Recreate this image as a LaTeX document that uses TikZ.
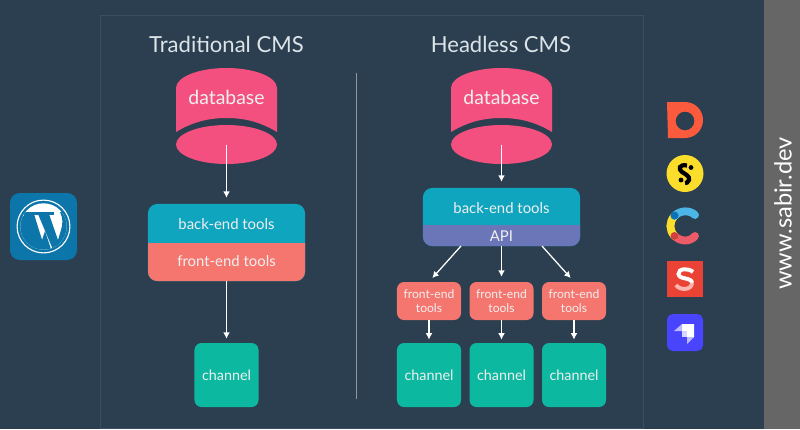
\documentclass[tikz,border=0pt]{standalone}
\usepackage{fontspec}
\setmainfont{Lato}
\usetikzlibrary{arrows.meta,shapes.geometric,calc}
\definecolor{hatter}{HTML}{2B3F50}
\definecolor{keret}{HTML}{3A4F61}
\definecolor{sav}{HTML}{666666}
\definecolor{valaszt}{HTML}{8C98A3}
\definecolor{cim}{HTML}{DDE4E8}
\definecolor{rozsa}{HTML}{F4507F}
\definecolor{kek}{HTML}{10A5BF}
\definecolor{lazac}{HTML}{F5766E}
\definecolor{lila}{HTML}{6B76B8}
\definecolor{zold}{HTML}{0DB8A0}
\definecolor{wpkek}{HTML}{0C76AB}
\definecolor{dpiros}{HTML}{FB5A3C}
\definecolor{sarga}{HTML}{FBDD2B}
\definecolor{cfkek}{HTML}{4BB5E5}
\definecolor{cfsotet}{HTML}{0A72B5}
\definecolor{cfpiros}{HTML}{EC5C68}
\definecolor{cfbordo}{HTML}{D0403F}
\definecolor{spiros}{HTML}{EA4335}
\definecolor{srozsa}{HTML}{F9B5AE}
\definecolor{strapi}{HTML}{4945FF}
\definecolor{strapih}{HTML}{BCBAFF}
\tikzset{
  nyil/.style={-{Latex[length=1.6mm,width=1.7mm]},white,line width=0.9pt},
  cimke/.style={text=cim,font=\fontsize{15.7}{18}\selectfont},
  dob/.style={inner sep=0pt,align=center,text=white!94!black},
  nagyfelirat/.style={dob,font=\fontsize{10.6}{12}\selectfont},
  kisfelirat/.style={dob,font=\fontsize{8.6}{10.2}\selectfont},
  tool/.style={nagyfelirat,fill=kek,rounded corners=6.5pt,minimum width=3.925cm},
  front/.style={kisfelirat,fill=lazac,rounded corners=5pt,minimum width=1.6cm,minimum height=0.95cm},
  channel/.style={dob,font=\fontsize{10.2}{12}\selectfont,fill=zold,rounded corners=5pt,minimum width=1.6cm,minimum height=1.6cm},
}
\begin{document}
\begin{tikzpicture}[x=0.025cm,y=-0.025cm]
  \useasboundingbox (0,0) rectangle (800,429);
  \fill[hatter] (0,0) rectangle (800,429);
  \fill[sav] (764,0) rectangle (800,429);
  \draw[keret,line width=0.6pt] (100,429) -- (100,15) -- (643,15) -- (643,428) -- (100,428);
  \node[inner sep=0pt] (vonalfent) at (356,72) {};
  \node[inner sep=0pt] (vonallent) at (356,400) {};
  \draw[valaszt,line width=0.7pt] (vonalfent) -- (vonallent);
  \node[cimke] (tradcim) at (226.5,44) {Traditional CMS};
  \node[cimke] (headcim) at (501,44) {Headless CMS};

  % database
  \foreach \cx/\nev in {226.5/trad,501.5/head} {
    \fill[rozsa] (\cx-50.5,88) .. controls (\cx-50.5,77) and (\cx-28,68) .. (\cx,68)
      .. controls (\cx+28,68) and (\cx+50.5,77) .. (\cx+50.5,88) -- (\cx+50.5,132)
      .. controls (\cx+34,122) and (\cx+18,118) .. (\cx,118)
      .. controls (\cx-18,118) and (\cx-34,122) .. (\cx-50.5,132) -- cycle;
    \node[ellipse,fill=rozsa,inner sep=0pt,minimum width=2.525cm,minimum height=0.975cm] (dbalja\nev) at (\cx,144.5) {};
    \node[dob,font=\fontsize{13.8}{16}\selectfont] (db\nev) at (\cx,97) {database};
  }

  % traditional
  \node[tool,minimum height=1.925cm] (trad) at (226.5,242.5) {};
  \fill[lazac,rounded corners=6.5pt] (148,243) [sharp corners] -- (305,243) [rounded corners=6.5pt] -- (305,281) -- (148,281) -- cycle;
  \fill[lazac] (148,243) rectangle (305,252);
  \node[nagyfelirat] (tradback) at (226.5,224) {back-end tools};
  \node[nagyfelirat] (tradfront) at (226.5,261) {front-end tools};
  \node[channel] (tradch) at (226.5,375) {channel};
  \draw[nyil,shorten >=4.2pt] (dbaljatrad.center) -- (trad.north);
  \draw[nyil,shorten >=2.8pt] (trad.south) -- (tradch.north);

  % headless
  \node[tool,minimum height=1.45cm] (head) at (501.5,217) {};
  \fill[lila,rounded corners=6.5pt] (423,225) [sharp corners] -- (580,225) [rounded corners=6.5pt] -- (580,246) -- (423,246) -- cycle;
  \fill[lila] (423,225) rectangle (580,234);
  \node[nagyfelirat] (headback) at (501.5,208) {back-end tools};
  \node[nagyfelirat] (api) at (501.5,236) {API};
  \draw[nyil,shorten >=4.2pt] (dbaljahead.center) -- (head.north);
  \coordinate (apibal) at (461,246);
  \coordinate (apikoz) at (501.5,246);
  \coordinate (apijobb) at (542,246);
  \foreach \x/\n/\honnan in {429/1/apibal,501.5/2/apikoz,574/3/apijobb} {
    \node[front] (front\n) at (\x,301) {front-end\\tools};
    \node[channel] (ch\n) at (\x,375) {channel};
    \draw[nyil,shorten >=3.5pt] (\honnan) -- (front\n.north);
    \draw[nyil,shorten >=2.2pt] (front\n.south) -- (ch\n.north);
  }

  % wordpress
  \fill[wpkek,rounded corners=7pt] (10,193) rectangle (77,260);
  \draw[white,line width=0.8pt] (43.5,226.5) circle[radius=0.66cm];
  \fill[white] (43.5,226.5) circle[radius=0.58cm];
  \begin{scope}
    \clip (43.5,226.5) circle[radius=0.58cm];
    \fill[wpkek] (20,220) -- (25,214) -- (34,214) -- (43,243) -- (38,252) -- (20,240) -- cycle;
    \fill[wpkek] (38,214) -- (49,214) -- (59,243) -- (54,252) -- cycle;
    \fill[wpkek] (24,211.5) rectangle (41,215);
    \fill[wpkek] (37,211.5) rectangle (54,215);
    \fill[wpkek] (45,231) -- (52,252) -- (38,252) -- cycle;
    \fill[wpkek] (60,212) .. controls (63,218) and (63,224) .. (61,230) -- (55,250) -- (64,250) -- (72,230) -- (68,212) -- cycle;
  \end{scope}

  % D
  \fill[even odd rule,fill=dpiros] (667,102) -- (685,102) .. controls (695,102) and (703,110) .. (703,120)
    .. controls (703,130) and (695,138) .. (685,138) -- (668,138) -- cycle
    (685,121) circle[radius=0.235cm];
  % sanity
  \fill[sarga] (685,173.5) circle[radius=0.4625cm];
  \draw[black,line width=3pt] (687,165.5) .. controls (679,164) and (678,169) .. (682,172) .. controls (685,174) and (690,176) .. (689,180) .. controls (688,183) and (686,183) .. (685,183);
  \fill[black] (691,167.5) circle[radius=0.06cm] (681,180) circle[radius=0.06cm];
  % contentful
  \draw[line width=5.6pt,line cap=round,cfpiros] (674.5,236) .. controls (681,242) and (690,242) .. (695,236);
  \draw[line width=5.6pt,line cap=round,sarga] (674.5,216) .. controls (669,222) and (669,230) .. (674.5,236);
  \draw[line width=5.6pt,line cap=round,cfkek] (674.5,216) .. controls (680,210) and (690,210) .. (695,215);
  \fill[cfsotet] (674.5,215.5) circle[radius=0.1cm];
  \fill[cfbordo] (674.5,236) circle[radius=0.1cm];
  % s
  \fill[spiros] (667,261) rectangle (703,297);
  \draw[line width=2.8pt,white] (693,272) .. controls (689,268) and (678,268) .. (678.5,274) .. controls (679,280) and (692,277) .. (692,283);
  \draw[line width=2.8pt,srozsa] (692,283) .. controls (692,290) and (680,291) .. (676,285);
  % strapi
  \fill[strapi,rounded corners=4pt] (667,314) rectangle (703,351);
  \fill[white] (682,324) -- (694,324) -- (694,337) -- (687,337) -- (687,331) -- (682,331) -- cycle;
  \fill[strapih] (682,324) -- (682,331) -- (674,331) -- cycle;
  \fill[strapih] (687,337) -- (694,337) -- (687,344) -- cycle;
  \fill[strapih!60!white] (682,331) rectangle (687,337);

  \node[rotate=90,text=white,inner sep=0pt,font=\fontsize{16.8}{18}\selectfont] (sabir) at (783,213.5) {www.sabir.dev};
\end{tikzpicture}
\end{document}
